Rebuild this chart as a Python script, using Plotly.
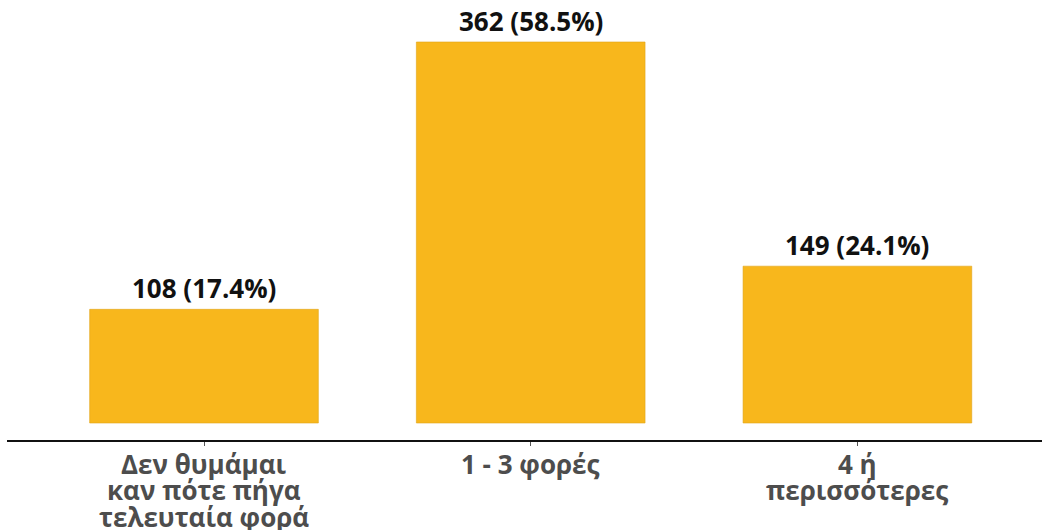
import plotly.graph_objects as go

category_lines = [
    ["Δεν θυμάμαι", "καν πότε πήγα", "τελευταία φορά"],
    ["1 - 3 φορές"],
    ["4 ή", "περισσότερες"],
]
counts = [108, 362, 149]
percents = [17.4, 58.5, 24.1]

labels = [f"{c} ({p}%)" for c, p in zip(counts, percents)]
x_pos = list(range(len(counts)))

VALUE_FONT = dict(family="Open Sans", size=26, color="#111111", weight="bold")
TICK_FONT = dict(family="Open Sans", size=26, color="#4d4d4d", weight="bold")
LINE_STEP = 26.3  # px between category label lines

fig = go.Figure()
fig.add_trace(go.Bar(
    x=x_pos,
    y=counts,
    width=0.70,
    marker=dict(color="#F8B71C", line=dict(color="#E0A41A", width=0.6)),
    hoverinfo="skip",
))

# value labels above each bar
for xi, yi, lab in zip(x_pos, counts, labels):
    fig.add_annotation(
        x=xi, y=yi, text=lab, showarrow=False,
        yanchor="bottom", yshift=1,
        font=VALUE_FONT,
    )

# category labels under the axis, one annotation per line for tight spacing
for xi, lines in zip(x_pos, category_lines):
    for k, line in enumerate(lines):
        fig.add_annotation(
            x=xi, xref="x", y=0, yref="paper", text=line, showarrow=False,
            yanchor="middle", yshift=-(24 + k * LINE_STEP),
            font=TICK_FONT,
        )

fig.update_layout(
    width=1042, height=530,
    margin=dict(l=7, r=0, t=0, b=90),
    paper_bgcolor="white", plot_bgcolor="white",
    showlegend=False,
    xaxis=dict(
        range=[-0.603, 2.565],
        tickmode="array", tickvals=x_pos, ticktext=["", "", ""],
        showline=True, linecolor="#111111", linewidth=2,
        ticks="outside", ticklen=4, tickcolor="#555555", tickwidth=1,
        showgrid=False, zeroline=False, fixedrange=True,
    ),
    yaxis=dict(
        range=[-16.15, 401.9],
        visible=False, showgrid=False, zeroline=False, fixedrange=True,
    ),
)

fig.write_html("out.html")
